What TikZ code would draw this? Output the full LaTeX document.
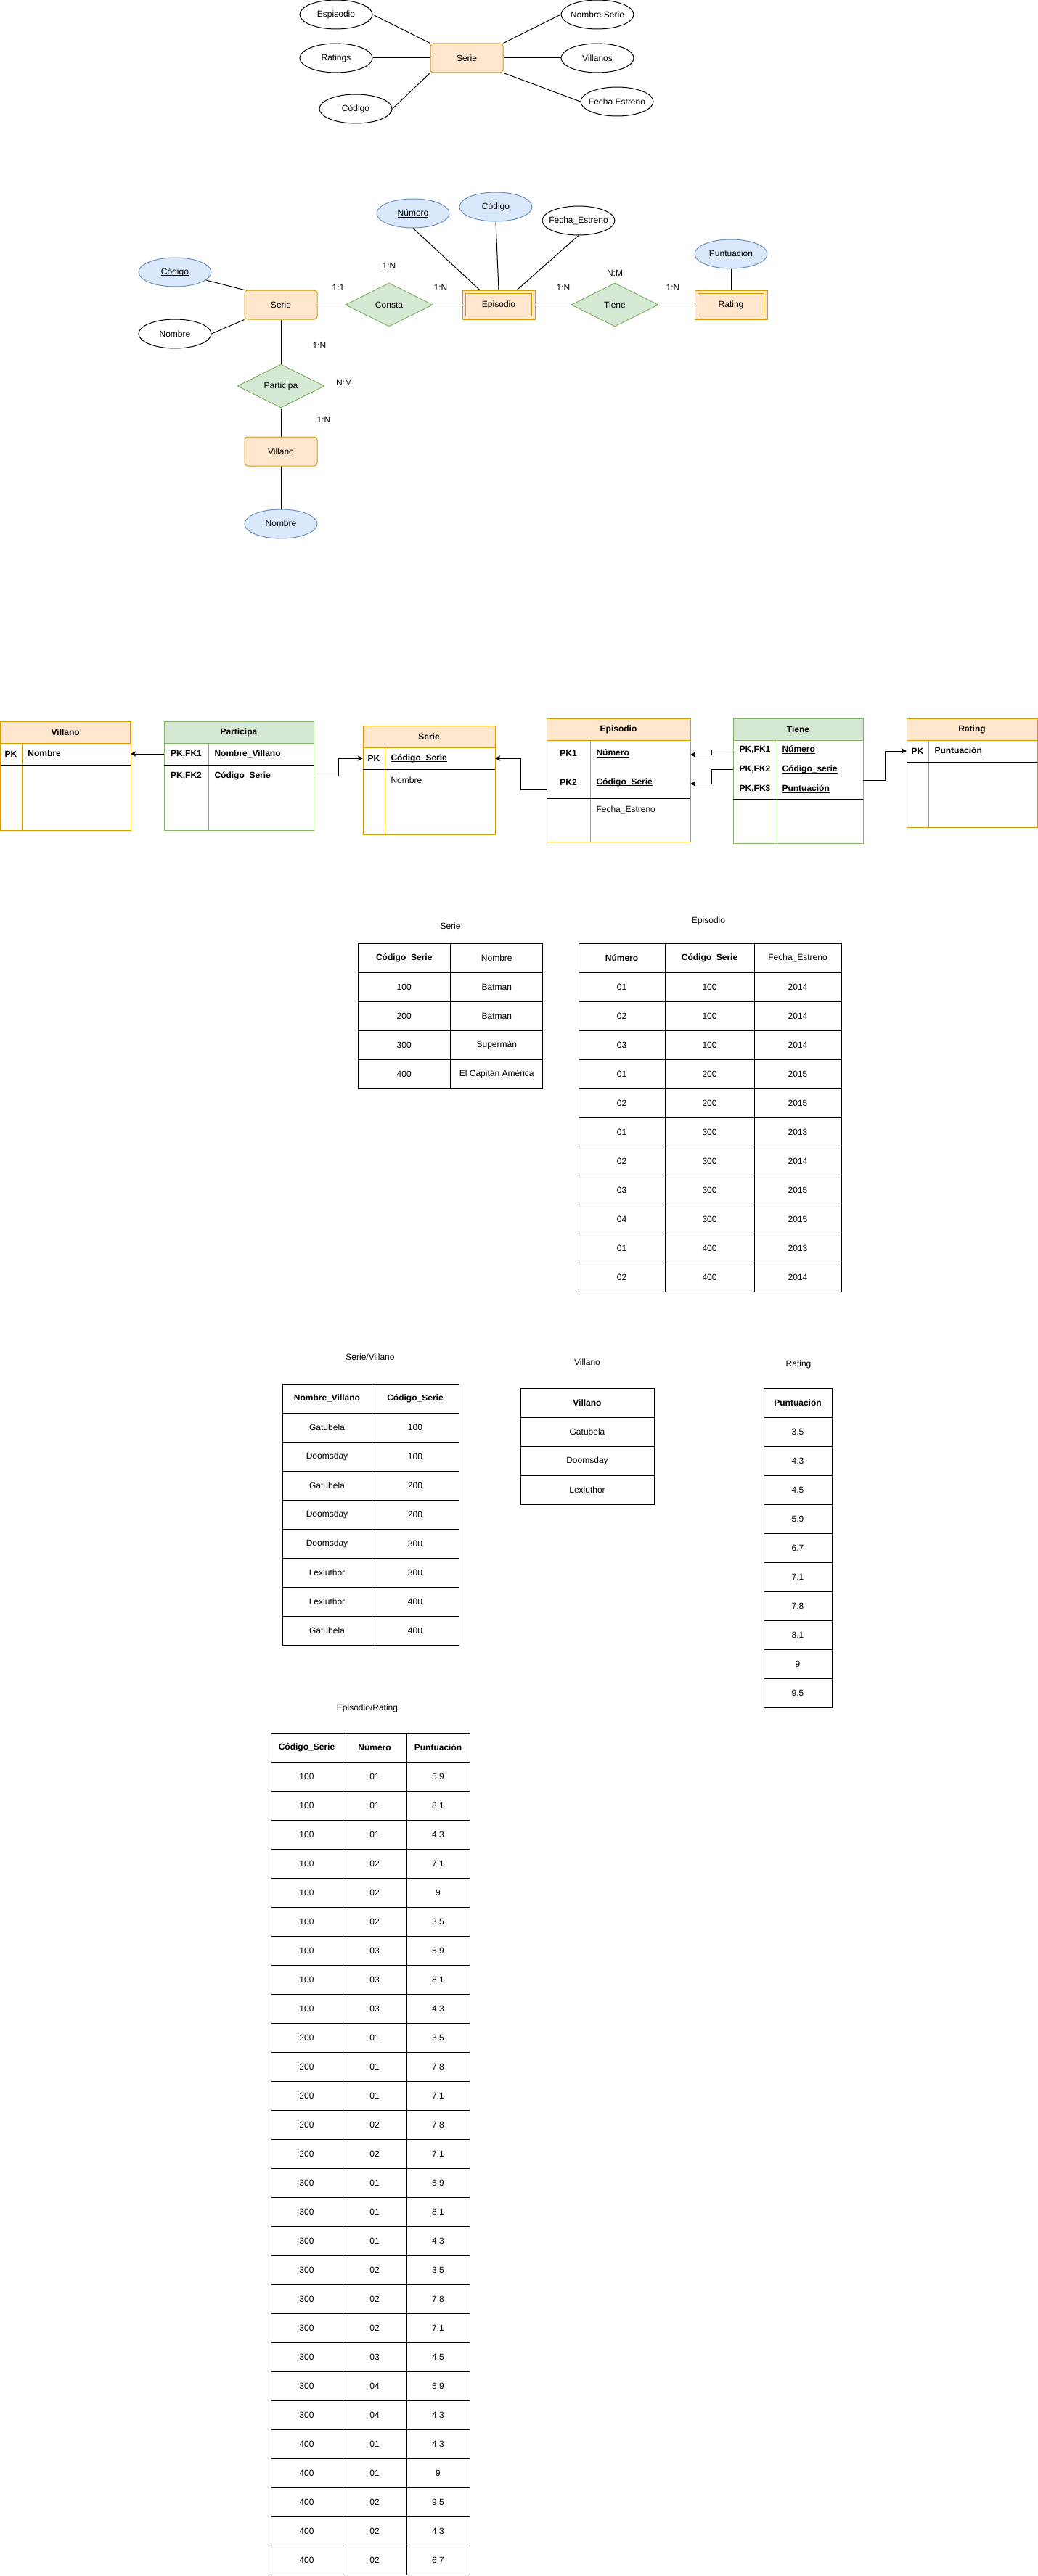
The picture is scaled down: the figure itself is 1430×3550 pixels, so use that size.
\documentclass[tikz,border=0pt]{standalone}
\usepackage{fontspec}
\setmainfont{Liberation Sans}
\usetikzlibrary{shapes.geometric,arrows.meta,positioning,calc}

\definecolor{orangeF}{HTML}{FFE6CC}
\definecolor{orangeD}{HTML}{D79B00}
\definecolor{greenF}{HTML}{D5E8D4}
\definecolor{greenD}{HTML}{82B366}
\definecolor{blueF}{HTML}{DAE8FC}
\definecolor{blueD}{HTML}{6C8EBF}

% underline at a fixed depth, through the descenders
\newcommand\keyname[1]{\setbox0\hbox{#1}\rlap{\rule[-1.5pt]{\wd0}{0.6pt}}\box0}

\tikzset{
  entity/.style={rectangle, rounded corners=3pt, draw=orangeD, fill=orangeF, minimum width=75pt, minimum height=30pt, inner sep=0pt},
  weakentity/.style={rectangle, draw=orangeD, fill=orangeF, minimum width=75pt, minimum height=30pt, inner sep=0pt},
  attr/.style={ellipse, draw, fill=white, minimum width=75pt, minimum height=30pt, inner xsep=-8pt, inner ysep=0pt},
  keyattr/.style={attr, draw=blueD, fill=blueF},
  relation/.style={diamond, draw=greenD, fill=greenF, minimum width=90pt, minimum height=45pt, inner sep=0pt},
  card/.style={inner sep=0pt},
  tblhead/.style={rectangle, minimum height=22.5pt, inner sep=0pt},
  rowbox/.style={rectangle, inner sep=0pt, outer sep=0pt},
  field/.style={anchor=west, inner sep=0pt},
  fk/.style={-{Stealth[length=5.5pt, width=5.5pt, inset=1.5pt]}},
  cell/.style={rectangle, draw, minimum height=30pt, inner sep=0pt},
}

\begin{document}
\begin{tikzpicture}[x=0.75pt, y=-0.75pt, line width=0.75pt, font=\fontsize{9}{11}\selectfont]
\useasboundingbox (0,0) rectangle (1430,3550);

% ---------- first sketch: Serie and its attributes ----------
\node[entity] (serieA) at (643,80) {Serie};
\node[attr] (espA) at (463,20) {Espisodio};
\node[attr] (ratA) at (463,80) {Ratings};
\node[attr] (codA) at (490,150) {Código};
\node[attr] (nomA) at (823,20) {Nombre Serie};
\node[attr] (vilA) at (823,80) {Villanos};
\node[attr] (fecA) at (850,140) {Fecha Estreno};

\draw (espA.east) -- (serieA.north west);
\draw (ratA.east) -- (serieA.west);
\draw (codA.east) -- (serieA.south west);
\draw (nomA.west) -- (serieA.north east);
\draw (vilA.west) -- (serieA.east);
\draw (fecA.west) -- (serieA.south east);

% ---------- entity-relationship model ----------
\node[entity] (serieB) at (387,420) {Serie};
\node[keyattr] (codB) at (241,375) {\keyname{Código}};
\node[attr] (nomB) at (241,460) {Nombre};
\node[relation] (consta) at (536,420) {Consta};
\node[weakentity] (epiB) at (687,420) {Episodio};
\node[relation] (tiene) at (847,420) {Tiene};
\node[weakentity] (ratB) at (1007,420) {Rating};
\node[keyattr] (puntB) at (1007,350) {\keyname{Puntuación}};
\node[keyattr] (numB) at (569,294) {\keyname{Número}};
\node[keyattr] (codEB) at (683,285) {\keyname{Código}};
\node[attr] (fecB) at (797,304) {Fecha\_Estreno};
\node[relation] (partB) at (387,532) {Participa};
\node[entity] (vilB) at (387,622) {Villano};
\node[keyattr] (nomVB) at (387,722) {\keyname{Nombre}};

% inner border of the weak entities
\foreach \n in {epiB,ratB}
    \draw[orangeD] ([shift={(3.75pt,-3.75pt)}]\n.north west) rectangle ([shift={(-3.75pt,3.75pt)}]\n.south east);

\draw (codB) -- (serieB.north west);
\draw (nomB.east) -- (serieB.south west);
\draw (serieB.east) -- (consta.west);
\draw (consta.east) -- (epiB.west);
\draw (epiB.east) -- (tiene.west);
\draw (tiene.east) -- (ratB.west);
\draw (puntB) -- (ratB);
\draw (numB.south) -- ($(epiB.north west)!0.24!(epiB.north east)$);
\draw (codEB.south) -- (epiB.north);
\draw (fecB.south) -- ($(epiB.north west)!0.75!(epiB.north east)$);
\draw (serieB) -- (partB);
\draw (partB) -- (vilB);
\draw (vilB) -- (nomVB);

% cardinalities
\node[card] (c1) at (536,366) {1:N};
\node[card] (c2) at (466,396) {1:1};
\node[card] (c3) at (607,396) {1:N};
\node[card] (c4) at (776,396) {1:N};
\node[card] (c5) at (847,376) {N:M};
\node[card] (c6) at (927,396) {1:N};
\node[card] (c7) at (440,476) {1:N};
\node[card] (c8) at (474,527) {N:M};
\node[card] (c9) at (446,578) {1:N};

% ---------- relational model ----------
% Villano table
\draw[orangeD, fill=white] (0.5,994) rectangle (180,1144);
\node[tblhead, draw=orangeD, fill=orangeF, minimum width=134.6pt] (vilH) at (90.25,1009) {\textbf{Villano}};
\draw[orangeD] (30,1024) -- (30,1144);
\draw (0.5,1054) -- (180,1054);
\node[rowbox, minimum width=134.6pt, minimum height=22.5pt] (vilR1) at (90.25,1039) {};
\node (vilK1) at (15,1039) {\textbf{PK}};
\node[field] (vilF1) at (38,1039) {\textbf{\keyname{Nombre}}};

% Participa table
\draw[greenD, fill=white] (226,994) rectangle (432,1144);
\node[tblhead, draw=greenD, fill=greenF, minimum width=154.5pt] (partH) at (329,1009) {\textbf{Participa}};
\draw[greenD] (287,1024) -- (287,1144);
\draw (226,1054) -- (432,1054);
\node[rowbox, minimum width=154.5pt, minimum height=22.5pt] (partR1) at (329,1039) {};
\node[rowbox, minimum width=154.5pt, minimum height=22.5pt] (partR2) at (329,1069) {};
\node (partK1) at (256.5,1039) {\textbf{PK,FK1}};
\node[field] (partF1) at (295,1039) {\textbf{\keyname{Nombre\_Villano}}};
\node (partK2) at (256.5,1069) {\textbf{PK,FK2}};
\node[field] (partF2) at (295,1069) {\textbf{Código\_Serie}};

% Serie table
\draw[orangeD, fill=white] (500,1000) rectangle (682,1150);
\node[tblhead, draw=orangeD, fill=orangeF, minimum width=136.5pt] (serieH) at (591,1015) {\textbf{Serie}};
\draw[orangeD] (530,1030) -- (530,1150);
\draw (500,1060) -- (682,1060);
\node[rowbox, minimum width=136.5pt, minimum height=22.5pt] (serieR1) at (591,1045) {};
\node (serieK1) at (515,1045) {\textbf{PK}};
\node[field] (serieF1) at (538,1045) {\textbf{\keyname{Código\_Serie}}};
\node[field] (serieF2) at (538,1075) {Nombre};

% Episodio table
\draw[orangeD, fill=white] (753,990) rectangle (951,1160);
\node[tblhead, draw=orangeD, fill=orangeF, minimum width=148.5pt] (epiH) at (852,1005) {\textbf{Episodio}};
\draw[orangeD] (813,1020) -- (813,1160);
\draw (753,1100) -- (951,1100);
\node[rowbox, minimum width=148.5pt, minimum height=30pt] (epiR1) at (852,1040) {};
\node[rowbox, minimum width=148.5pt, minimum height=30pt] (epiR2) at (852,1080) {};
\node (epiK1) at (783,1038) {\textbf{PK1}};
\node[field] (epiF1) at (821,1038) {\textbf{\keyname{Número}}};
\node (epiK2) at (783,1078) {\textbf{PK2}};
\node[field] (epiF2) at (821,1078) {\textbf{\keyname{Código\_Serie}}};
\node[field] (epiF3) at (821,1116) {Fecha\_Estreno};

% Tiene table
\draw[greenD, fill=white] (1010,990) rectangle (1189,1162);
\node[tblhead, draw=greenD, fill=greenF, minimum width=134.25pt] (tieneH) at (1099.5,1005) {\textbf{Tiene}};
\draw[greenD] (1070,1020) -- (1070,1162);
\draw (1010,1101) -- (1189,1101);
\node[rowbox, minimum width=134.25pt, minimum height=20.25pt] (tieneR1) at (1099.5,1033.5) {};
\node[rowbox, minimum width=134.25pt, minimum height=20.25pt] (tieneR2) at (1099.5,1060.5) {};
\node[rowbox, minimum width=134.25pt, minimum height=20.25pt] (tieneR3) at (1099.5,1087.5) {};
\node (tieneK1) at (1040,1033.5) {\textbf{PK,FK1}};
\node[field] (tieneF1) at (1077,1033.5) {\textbf{\keyname{Número}}};
\node (tieneK2) at (1040,1060.5) {\textbf{PK,FK2}};
\node[field] (tieneF2) at (1077,1060.5) {\textbf{\keyname{Código\_serie}}};
\node (tieneK3) at (1040,1087.5) {\textbf{PK,FK3}};
\node[field] (tieneF3) at (1077,1087.5) {\textbf{\keyname{Puntuación}}};

% Rating table
\draw[orangeD, fill=white] (1249,990) rectangle (1429,1140);
\node[tblhead, draw=orangeD, fill=orangeF, minimum width=135pt] (ratH) at (1339,1005) {\textbf{Rating}};
\draw[orangeD] (1279,1020) -- (1279,1140);
\draw (1249,1050) -- (1429,1050);
\node[rowbox, minimum width=135pt, minimum height=22.5pt] (ratR1) at (1339,1035) {};
\node (ratK1) at (1264,1035) {\textbf{PK}};
\node[field] (ratF1) at (1287,1035) {\textbf{\keyname{Puntuación}}};

% foreign keys
\draw[fk] (partR1.west) -- (vilR1.east);
\draw[fk] (partR2.east) -- ++(34,0) |- (serieR1.west);
\draw[fk] ([yshift=-6pt]epiR2.west) -- ++(-36,0) |- (serieR1.east);
\draw[fk] (tieneR1.west) -- ++(-30,0) |- (epiR1.east);
\draw[fk] (tieneR2.west) -- ++(-30,0) |- (epiR2.east);
\draw[fk] ([yshift=9pt]tieneR3.east) -- ++(30,0) |- (ratR1.west);

% ---------- data ----------
% Serie
\node (tSerie) at (620.5,1276) {Serie};
\node[cell, minimum width=95.6pt] (sd-0-1) at (556.75,1320) {\textbf{Código\_Serie}};
\node[cell, minimum width=95.6pt] (sd-0-2) at (684.25,1320) {Nombre};
\foreach \a/\b [count=\i] in {100/Batman, 200/Batman, 300/Supermán, 400/El Capitán América}{
    \node[cell, minimum width=95.6pt] (sd-\i-1) at (556.75,1320+40*\i) {\a};
    \node[cell, minimum width=95.6pt] (sd-\i-2) at (684.25,1320+40*\i) {\b};
}

% Episodio
\node (tEpi) at (976,1269) {Episodio};
\node[cell, minimum width=89.25pt] (ed-0-1) at (856.5,1320) {\textbf{Número}};
\node[cell, minimum width=92.25pt] (ed-0-2) at (977.5,1320) {\textbf{Código\_Serie}};
\node[cell, minimum width=90pt] (ed-0-3) at (1099,1320) {Fecha\_Estreno};
\foreach \a/\b/\c [count=\i] in {01/100/2014, 02/100/2014, 03/100/2014, 01/200/2015, 02/200/2015, 01/300/2013, 02/300/2014, 03/300/2015, 04/300/2015, 01/400/2013, 02/400/2014}{
    \node[cell, minimum width=89.25pt] (ed-\i-1) at (856.5,1320+40*\i) {\a};
    \node[cell, minimum width=92.25pt] (ed-\i-2) at (977.5,1320+40*\i) {\b};
    \node[cell, minimum width=90pt] (ed-\i-3) at (1099,1320+40*\i) {\c};
}

% Serie/Villano
\node (tSV) at (510,1870) {Serie/Villano};
\node[cell, minimum width=92.25pt] (svd-0-1) at (450.5,1927) {\textbf{Nombre\_Villano}};
\node[cell, minimum width=90pt] (svd-0-2) at (572,1927) {\textbf{Código\_Serie}};
\foreach \a/\b [count=\i] in {Gatubela/100, Doomsday/100, Gatubela/200, Doomsday/200, Doomsday/300, Lexluthor/300, Lexluthor/400, Gatubela/400}{
    \node[cell, minimum width=92.25pt] (svd-\i-1) at (450.5,1927+40*\i) {\a};
    \node[cell, minimum width=90pt] (svd-\i-2) at (572,1927+40*\i) {\b};
}

% Villano
\node (tVil) at (809,1877) {Villano};
\node[cell, minimum width=138pt] (vd-0) at (809,1933) {\textbf{Villano}};
\foreach \a [count=\i] in {Gatubela, Doomsday, Lexluthor}
    \node[cell, minimum width=138pt] (vd-\i) at (809,1933+40*\i) {\a};

% Rating
\node (tRat) at (1100,1880) {Rating};
\node[cell, minimum width=70.5pt] (rd-0) at (1099,1933) {\textbf{Puntuación}};
\foreach \a [count=\i] in {3.5, 4.3, 4.5, 5.9, 6.7, 7.1, 7.8, 8.1, 9, 9.5}
    \node[cell, minimum width=70.5pt] (rd-\i) at (1099,1933+40*\i) {\a};

% Episodio/Rating
\node (tER) at (506,2354) {Episodio/Rating};
\node[cell, minimum width=74.25pt] (erd-0-1) at (422.5,2408) {\textbf{Código\_Serie}};
\node[cell, minimum width=66pt] (erd-0-2) at (516,2408) {\textbf{Número}};
\node[cell, minimum width=65.25pt] (erd-0-3) at (603.5,2408) {\textbf{Puntuación}};
\foreach \a/\b/\c [count=\i] in {100/01/5.9, 100/01/8.1, 100/01/4.3, 100/02/7.1, 100/02/9, 100/02/3.5, 100/03/5.9, 100/03/8.1, 100/03/4.3, 200/01/3.5, 200/01/7.8, 200/01/7.1, 200/02/7.8, 200/02/7.1, 300/01/5.9, 300/01/8.1, 300/01/4.3, 300/02/3.5, 300/02/7.8, 300/02/7.1, 300/03/4.5, 300/04/5.9, 300/04/4.3, 400/01/4.3, 400/01/9, 400/02/9.5, 400/02/4.3, 400/02/6.7}{
    \node[cell, minimum width=74.25pt] (erd-\i-1) at (422.5,2408+40*\i) {\a};
    \node[cell, minimum width=66pt] (erd-\i-2) at (516,2408+40*\i) {\b};
    \node[cell, minimum width=65.25pt] (erd-\i-3) at (603.5,2408+40*\i) {\c};
}
\end{tikzpicture}
\end{document}
